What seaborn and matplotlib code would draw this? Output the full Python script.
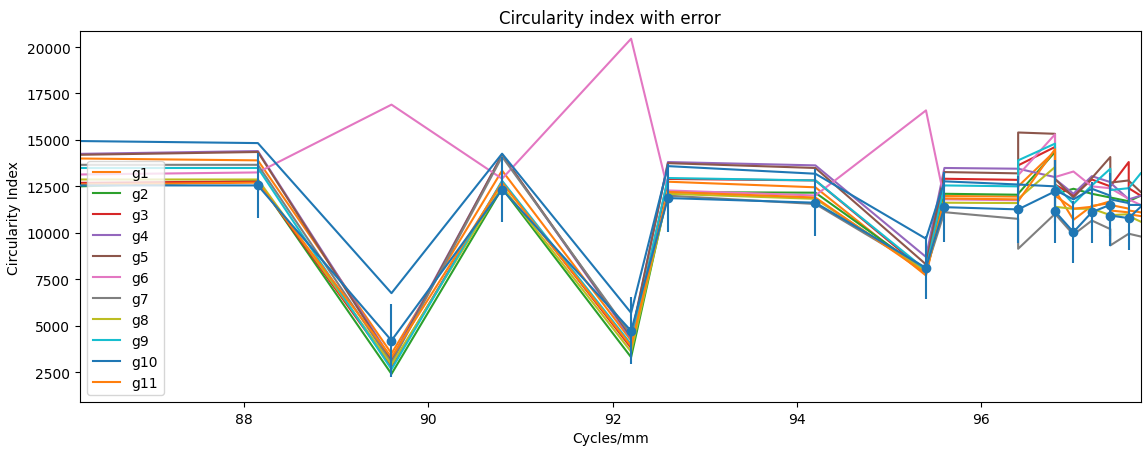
import matplotlib
matplotlib.use("Agg")
import matplotlib.pyplot as plt
import numpy as np
import pandas as pd
import seaborn as sns

# Spatial frequency samples (Cycles/mm); repeated values are repeated measurements
cycles = [86.22, 88.15, 89.6, 90.8, 92.2, 92.6, 94.2, 95.4, 95.6, 96.4, 96.4,
          96.8, 96.8, 97.0, 97.2, 97.4, 97.4, 97.6, 97.6, 97.73]

g1 = [14000, 13900, 3500, 13350, 4200, 12750, 12450, 7700, 11980, 11950, 12500,
      14400, 12300, 10700, 11450, 11600, 11200, 11100, 11000, 10900]
g2 = [12500, 12800, 2400, 12400, 3300, 12190, 12160, 7900, 12100, 12050, 12100,
      14350, 12100, 12370, 12100, 11900, 11900, 11700, 11700, 12000]
g3 = [12690, 12770, 2800, 12750, 3800, 12900, 12820, 7900, 12910, 12850, 13630,
      14620, 12600, 12010, 12870, 12500, 12500, 13810, 12400, 12000]
g4 = [14250, 14400, 3200, 14200, 4300, 13810, 13630, 8700, 13490, 13450, 13450,
      13000, 12900, 12100, 13050, 12730, 12700, 11800, 11800, 12000]
g5 = [14200, 14350, 3100, 14200, 4400, 13750, 13490, 8300, 13270, 13200, 15400,
      15330, 12900, 11900, 12950, 14080, 12700, 12820, 12800, 12200]
g6 = [13140, 13250, 16900, 12910, 20450, 12280, 12010, 16590, 11800, 11750, 13100,
      15300, 13000, 13300, 12500, 12400, 12400, 11830, 11800, 11500]
g7 = [13660, 13660, 3000, 14100, 4500, 12000, 11550, 8000, 11110, 10750, 9140,
      11020, 11020, 9900, 10660, 10200, 9320, 9950, 9950, 9800]
g8 = [12870, 12870, 2900, 12500, 3600, 12100, 11830, 7900, 11620, 11600, 11830,
      13540, 11400, 11290, 11300, 10950, 10950, 11000, 10900, 10600]
g9 = [13490, 13490, 2650, 12800, 4000, 12950, 12820, 8000, 12550, 12500, 13900,
      14800, 12600, 11560, 12550, 13450, 12300, 12400, 12400, 13200]
g10 = [14940, 14830, 6750, 14260, 5690, 13590, 13180, 9680, 12770, 12600, 12600,
       12500, 12300, 11800, 12370, 12000, 11800, 11600, 11500, 11500]
g11 = [12600, 12700, 3300, 12700, 3900, 12200, 11900, 7800, 11850, 11800, 11700,
       14500, 12000, 11300, 11400, 11700, 11500, 11300, 11200, 11100]

groups = ["g1", "g2", "g3", "g4", "g5", "g6", "g7", "g8", "g9", "g10", "g11"]
series = [g1, g2, g3, g4, g5, g6, g7, g8, g9, g10, g11]

# Mean curve with its error
mean_cycles = [86.22, 88.15, 89.6, 90.8, 92.2, 92.6, 94.2, 95.4, 95.6, 96.4,
               96.8, 96.8, 97.0, 97.2, 97.4, 97.4, 97.6, 97.73]
mean_index = [12550, 12550, 4200, 12330, 4720, 11870, 11620, 8110, 11380, 11260,
              12230, 11150, 10040, 11110, 11510, 10930, 10790, 11400]
mean_error = [0, 1750, 1950, 1760, 1800, 1850, 1800, 1700, 1900, 1800,
              1700, 1700, 1650, 1650, 1700, 1650, 1700, 0]

df = pd.DataFrame({
    "Cycles/mm": np.tile(cycles, len(groups)),
    "Circularity Index": np.concatenate(series),
    "group": np.repeat(groups, len(cycles)),
})

# The mean curve takes the first colour of the cycle, the groups follow on
tab10 = sns.color_palette("tab10", 10)
palette = [tab10[(i + 1) % 10] for i in range(len(groups))]

fig = plt.figure(figsize=(11.43, 4.52), dpi=100)
ax = fig.add_axes([0.070, 0.108, 0.928, 0.821])

sns.lineplot(data=df, x="Cycles/mm", y="Circularity Index", hue="group",
             palette=palette, estimator=None, sort=False, linewidth=1.5, ax=ax)

# Mean curve: connecting line over the full range, markers with error bars
ax.plot(mean_cycles, mean_index, color=tab10[0], linewidth=1.5, zorder=3)
ax.errorbar(mean_cycles[1:-1], mean_index[1:-1], yerr=mean_error[1:-1],
            fmt="o", color=tab10[0], markersize=6, elinewidth=1.5, zorder=3)

ax.set_xlim(min(cycles), max(cycles))
ax.set_ylim(880, 20860)
ax.set_title("Circularity index with error")
ax.set_xlabel("Cycles/mm")
ax.set_ylabel("Circularity Index")

handles, labels = ax.get_legend_handles_labels()
ax.legend(handles, labels, loc="lower left")

fig.savefig("out.png", dpi=100)
